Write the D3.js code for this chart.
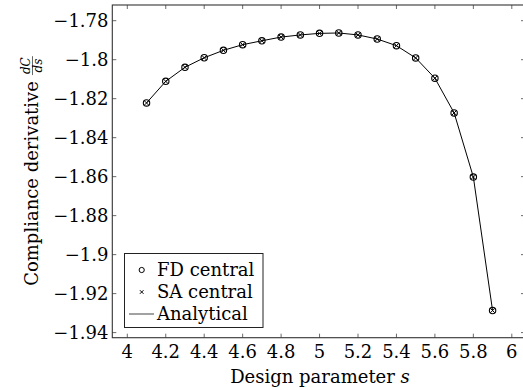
<!DOCTYPE html>
<html>
<head>
<meta charset="utf-8">
<script src="https://cdn.jsdelivr.net/npm/d3@7"></script>
<style>
  body { margin: 0; background: #fff; }
</style>
</head>
<body>
<div id="chart"></div>
<script>
// design parameter values and the three derivative estimates (they coincide)
const sValues = [4.1, 4.2, 4.3, 4.4, 4.5, 4.6, 4.7, 4.8, 4.9, 5.0, 5.1, 5.2, 5.3, 5.4, 5.5, 5.6, 5.7, 5.8, 5.9];
const fdCentral = [-1.8222, -1.8111, -1.8039, -1.7990, -1.7952, -1.7923, -1.7903, -1.7884, -1.7873, -1.7865,
  -1.7863, -1.7873, -1.7894, -1.7928, -1.7991, -1.8095, -1.8273, -1.8602, -1.9287];
const saCentral = [-1.8222, -1.8111, -1.8039, -1.7990, -1.7952, -1.7923, -1.7903, -1.7884, -1.7873, -1.7865,
  -1.7863, -1.7873, -1.7894, -1.7928, -1.7991, -1.8095, -1.8273, -1.8602, -1.9287];
const analytical = [-1.8222, -1.8111, -1.8039, -1.7990, -1.7952, -1.7923, -1.7903, -1.7884, -1.7873, -1.7865,
  -1.7863, -1.7873, -1.7894, -1.7928, -1.7991, -1.8095, -1.8273, -1.8602, -1.9287];
const xTicks = [4, 4.2, 4.4, 4.6, 4.8, 5, 5.2, 5.4, 5.6, 5.8, 6];
const yTicks = [-1.78, -1.8, -1.82, -1.84, -1.86, -1.88, -1.9, -1.92, -1.94];
const legendLabels = ["FD central", "SA central", "Analytical"];

const W = 523, H = 390;
const FONT = "'DejaVu Serif', serif";
// frame of the axis box
const box = { left: 112.3, right: 525, top: 5, bottom: 337.7 };

const svg = d3.select("#chart").append("svg")
  .attr("width", W).attr("height", H)
  .attr("font-family", FONT);

const x = d3.scaleLinear().domain([4, 6]).range([127.3, 511.8]);
const y = d3.scaleLinear().domain([-1.78, -1.94]).range([20.7, 332.6]);

const fmt = d => String(+d.toFixed(2)).replace("-", "\u2212");
const tickLen = 4;
const fontSize = 18;

// ticks on all four sides, pointing inward
const ticks = svg.append("g").attr("stroke", "#444").attr("stroke-width", 0.8);
xTicks.forEach(t => {
  ticks.append("line").attr("x1", x(t)).attr("x2", x(t)).attr("y1", box.bottom).attr("y2", box.bottom - tickLen);
  ticks.append("line").attr("x1", x(t)).attr("x2", x(t)).attr("y1", box.top).attr("y2", box.top + tickLen);
});
yTicks.forEach(t => {
  ticks.append("line").attr("x1", box.left).attr("x2", box.left + tickLen).attr("y1", y(t)).attr("y2", y(t));
  ticks.append("line").attr("x1", box.right).attr("x2", box.right - tickLen).attr("y1", y(t)).attr("y2", y(t));
});

// frame
svg.append("rect")
  .attr("x", box.left).attr("y", box.top)
  .attr("width", box.right - box.left).attr("height", box.bottom - box.top)
  .attr("fill", "none").attr("stroke", "#333").attr("stroke-width", 1.1);

// tick labels
svg.append("g").selectAll("text").data(xTicks).enter().append("text")
  .attr("x", d => x(d)).attr("y", 358)
  .attr("text-anchor", "middle").attr("font-size", fontSize)
  .text(fmt);
svg.append("g").selectAll("text").data(yTicks).enter().append("text")
  .attr("x", 108.5).attr("y", d => y(d) + 6.5)
  .attr("text-anchor", "end").attr("font-size", fontSize)
  .text(fmt);

// x axis title
const xt = svg.append("text")
  .attr("x", 320).attr("y", 383)
  .attr("text-anchor", "middle").attr("font-size", fontSize);
xt.append("tspan").text("Design parameter ");
xt.append("tspan").attr("font-style", "italic").text("s");

// y axis title with a small dC/ds fraction
const yl = svg.append("g").attr("transform", "translate(38,171) rotate(-90)");
const mainText = yl.append("text").attr("font-size", fontSize).text("Compliance derivative");
const mainLen = mainText.node().getComputedTextLength();
const fracSize = 12;
const num = yl.append("text").attr("font-size", fracSize).attr("font-style", "italic").text("dC");
const den = yl.append("text").attr("font-size", fracSize).attr("font-style", "italic").text("ds");
const numLen = num.node().getComputedTextLength();
const denLen = den.node().getComputedTextLength();
const fracW = Math.max(numLen, denLen) + 2;
const gap = 6;
const total = mainLen + gap + fracW;
const u0 = -total / 2;
mainText.attr("x", u0).attr("y", 0);
const fx = u0 + mainLen + gap;
const axisV = -5.5;
num.attr("x", fx + fracW / 2).attr("y", axisV - 2.5).attr("text-anchor", "middle");
den.attr("x", fx + fracW / 2).attr("y", axisV + 9).attr("text-anchor", "middle");
yl.append("line").attr("x1", fx).attr("x2", fx + fracW)
  .attr("y1", axisV).attr("y2", axisV).attr("stroke", "#000").attr("stroke-width", 0.6);

// data line
const pts = sValues.map((s, i) => [s, analytical[i]]);
svg.append("path")
  .attr("d", d3.line().x(d => x(d[0])).y(d => y(d[1]))(pts))
  .attr("fill", "none").attr("stroke", "#000").attr("stroke-width", 1);

// circle markers (FD central)
svg.append("g").selectAll("circle").data(sValues.map((s, i) => [s, fdCentral[i]])).enter().append("circle")
  .attr("cx", d => x(d[0])).attr("cy", d => y(d[1])).attr("r", 3.2)
  .attr("fill", "none").attr("stroke", "#000").attr("stroke-width", 1.1);

// cross markers (SA central)
const cr = 2.2;
const crossPath = (cx, cy, r) => `M${cx - r},${cy - r}L${cx + r},${cy + r}M${cx - r},${cy + r}L${cx + r},${cy - r}`;
svg.append("g").selectAll("path").data(sValues.map((s, i) => [s, saCentral[i]])).enter().append("path")
  .attr("d", d => crossPath(x(d[0]), y(d[1]), cr))
  .attr("fill", "none").attr("stroke", "#000").attr("stroke-width", 1);

// legend
const lg = svg.append("g");
lg.append("rect").attr("x", 124.5).attr("y", 253.5).attr("width", 138.5).attr("height", 74)
  .attr("fill", "#fff").attr("stroke", "#222").attr("stroke-width", 1);
const rowY = [270, 292, 314];
lg.append("circle").attr("cx", 141.7).attr("cy", rowY[0]).attr("r", 2.6)
  .attr("fill", "none").attr("stroke", "#000").attr("stroke-width", 1);
lg.append("path").attr("d", crossPath(141.7, rowY[1], 1.8))
  .attr("stroke", "#000").attr("stroke-width", 1);
lg.append("line").attr("x1", 129).attr("x2", 154).attr("y1", rowY[2]).attr("y2", rowY[2])
  .attr("stroke", "#444").attr("stroke-width", 1);
legendLabels.forEach((t, i) => {
  lg.append("text").attr("x", 157).attr("y", rowY[i] + 6)
    .attr("font-size", fontSize).text(t);
});
</script>
</body>
</html>
